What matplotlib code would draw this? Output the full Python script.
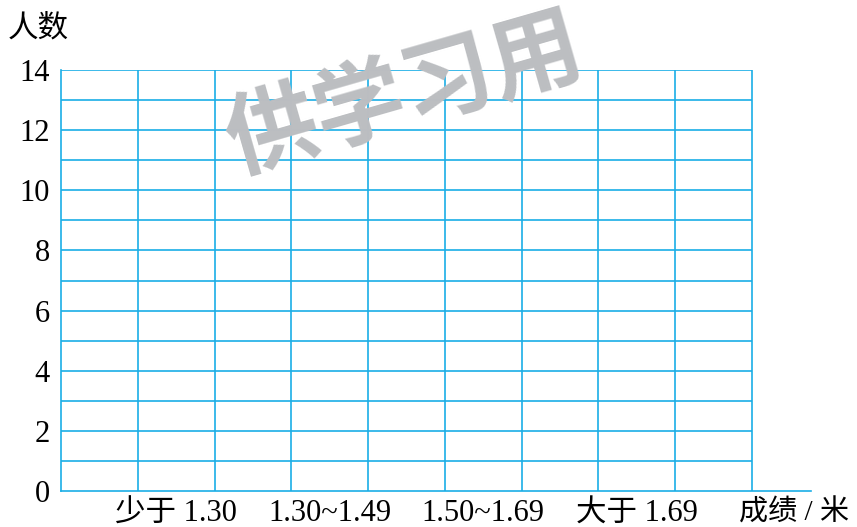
import matplotlib.pyplot as plt
import numpy as np

plt.rcParams["font.family"] = ["Liberation Serif", "Noto Sans CJK SC"]

categories = ["少于 1.30", "1.30~1.49", "1.50~1.69", "大于 1.69"]
category_pos = [1.5, 3.5, 5.5, 7.5]
y_ticks = [0, 2, 4, 6, 8, 10, 12, 14]
grid_cols = 9
grid_rows = 14
watermark = "供学习用"

grid_color = "#1aaee6"

fig = plt.figure(figsize=(8.57, 5.27), dpi=100)
ax = fig.add_axes([61 / 857, 1 - 491 / 527, 750 / 857, 421 / 527])

ax.set_xlim(0, 9.77)
ax.set_ylim(0, grid_rows)

# grid cells
ax.hlines(np.arange(1, grid_rows + 1), 0, grid_cols, color=grid_color, lw=1.2, zorder=2)
ax.vlines(np.arange(1, grid_cols + 1), 0, grid_rows, color=grid_color, lw=1.2, zorder=2)

for side in ["top", "right"]:
    ax.spines[side].set_visible(False)
for side in ["left", "bottom"]:
    ax.spines[side].set_color(grid_color)
    ax.spines[side].set_linewidth(1.2)

ax.set_yticks(y_ticks)
ax.set_yticklabels([str(t) for t in y_ticks], fontsize=22)
ax.set_xticks(category_pos)
ax.set_xticklabels(categories, fontsize=22)
ax.tick_params(length=0, pad=8)
ax.tick_params(axis="x", pad=6)

fig.text(8 / 857, 1 - 29 / 527, "人数", fontsize=22, ha="left", va="center")
fig.text(794 / 857, 1 - 513 / 527, "成绩 / 米", fontsize=21, ha="center", va="center")

fig.text(405 / 857, 1 - 96 / 527, watermark, fontsize=66, color="#bcbec1",
         rotation=16, ha="center", va="center", zorder=0, fontweight="bold",
         family=["Noto Sans CJK SC"])

fig.savefig("out.png", dpi=100)
